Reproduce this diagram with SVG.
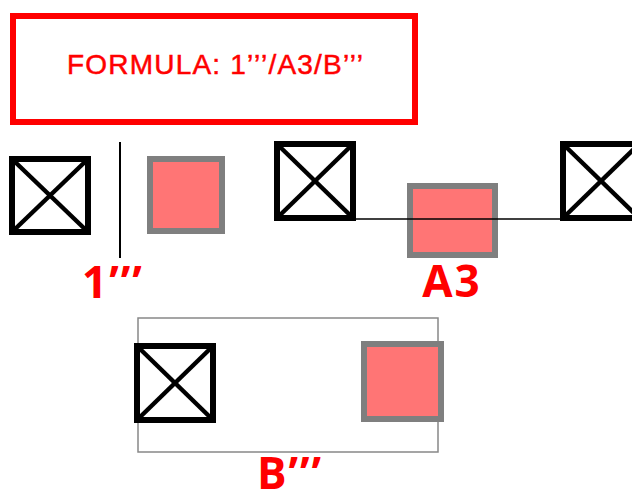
<svg xmlns="http://www.w3.org/2000/svg" width="632" height="494" viewBox="0 0 632 494">
<style>
.xbox rect{fill:#fff;stroke:#000;stroke-width:6}
.xbox line{stroke:#000;stroke-width:4.5}
.pink{fill:#FF7575;stroke:#7F7F7F;stroke-width:6}
.lbl{font-family:"Open Sans","Liberation Sans",sans-serif;font-weight:bold;fill:#FF0000;font-size:44px;text-anchor:middle;letter-spacing:2px}
</style>
<g id="formula">
<rect x="13" y="16" width="402" height="106" fill="#fff" stroke="#FF0000" stroke-width="6"/>
<text x="67" y="74" font-family="Liberation Sans, Arial, sans-serif" font-size="28" fill="#FF0000" stroke="#FF0000" stroke-width="0.5" textLength="296" lengthAdjust="spacing">FORMULA: 1’’’/A3/B’’’</text>
</g>
<g id="dimB">
<path d="M138 452 V318 H438 V452 Z" fill="none" stroke="#888" stroke-width="1.5"/>
</g>
<g id="xbox1" class="xbox">
<rect x="12" y="159" width="76" height="73"/>
<line x1="12" y1="159" x2="88" y2="232"/><line x1="88" y1="159" x2="12" y2="232"/>
</g>
<g id="pink1"><rect class="pink" x="150" y="159" width="72" height="72"/></g>
<g id="xbox2" class="xbox">
<rect x="277" y="144" width="76" height="74"/>
<line x1="277" y1="144" x2="353" y2="218"/><line x1="353" y1="144" x2="277" y2="218"/>
</g>
<g id="pinkA3"><rect class="pink" x="410" y="186" width="85" height="69"/></g>
<g id="xbox3" class="xbox">
<rect x="563" y="144" width="76" height="74"/>
<line x1="563" y1="144" x2="639" y2="218"/><line x1="639" y1="144" x2="563" y2="218"/>
</g>
<g id="xbox4" class="xbox">
<rect x="137" y="346" width="76" height="74"/>
<line x1="137" y1="346" x2="213" y2="420"/><line x1="213" y1="346" x2="137" y2="420"/>
</g>
<g id="pinkB"><rect class="pink" x="364" y="344" width="77" height="75"/></g>
<g id="connectors">
<line x1="120" y1="142" x2="120" y2="258" stroke="#000" stroke-width="2"/>
<line x1="356" y1="219" x2="562" y2="219" stroke="#000" stroke-width="1.5"/>
</g>
<text class="lbl" x="113" y="298">1’’’</text>
<text class="lbl" x="452" y="297">A3</text>
<text class="lbl" x="290" y="489">B’’’</text>
</svg>
